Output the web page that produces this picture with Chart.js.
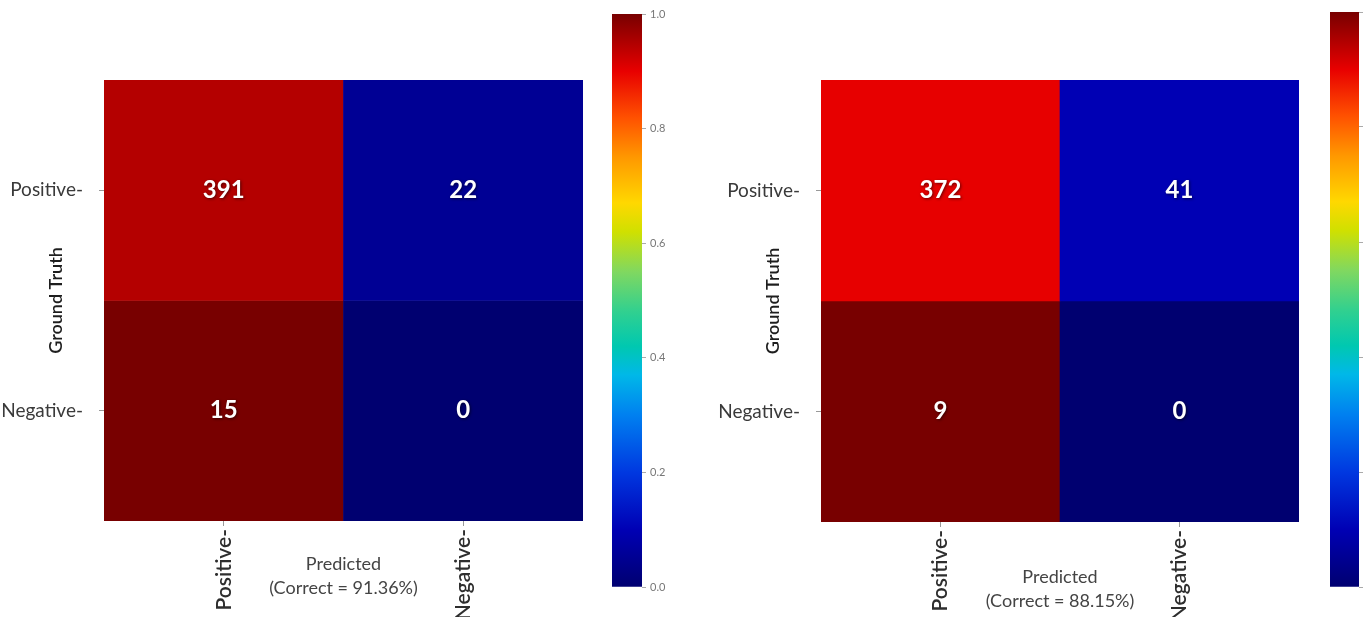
<!DOCTYPE html>
<html>
<head>
<meta charset="utf-8">
<script src="https://cdn.jsdelivr.net/npm/chart.js@4/dist/chart.umd.min.js"></script>
<style>
  html, body { margin: 0; padding: 0; background: #ffffff; }
  body { width: 1370px; height: 617px; position: relative; overflow: hidden; }
  canvas { position: absolute; }
</style>
</head>
<body>
<canvas id="matrixLeft"></canvas>
<canvas id="barLeft"></canvas>
<canvas id="matrixRight"></canvas>
<canvas id="barRight"></canvas>
<script>
// Axis categories
const predictedLabels = ['Positive-', 'Negative-'];
const truthLabels = ['Positive-', 'Negative-'];

// Confusion-matrix counts, one array per ground-truth row
const leftPositiveRow = [391, 22];
const leftNegativeRow = [15, 0];
const rightPositiveRow = [372, 41];
const rightNegativeRow = [9, 0];

// Colour bar ticks
const colorbarTicks = [0, 0.2, 0.4, 0.6, 0.8, 1.0];

// Jet-style colour map stops
const jetStops = [
  [0.00, '#000070'], [0.10, '#0000b4'], [0.20, '#0038e0'], [0.30, '#0080f0'],
  [0.37, '#00b8e8'], [0.42, '#00c8b0'], [0.48, '#30d090'], [0.55, '#80d860'],
  [0.62, '#d0e000'], [0.67, '#ffd800'], [0.75, '#ff9800'], [0.82, '#ff5000'],
  [0.90, '#e80000'], [0.95, '#b00000'], [1.00, '#780000']
];

const FONT = 'Lato, "Open Sans", "DejaVu Sans", sans-serif';

function hexToRgb(h) {
  return [parseInt(h.slice(1, 3), 16), parseInt(h.slice(3, 5), 16), parseInt(h.slice(5, 7), 16)];
}
function jet(v) {
  v = Math.max(0, Math.min(1, v));
  for (let i = 1; i < jetStops.length; i++) {
    const [p1, c1] = jetStops[i];
    const [p0, c0] = jetStops[i - 1];
    if (v <= p1) {
      const t = (v - p0) / (p1 - p0);
      const a = hexToRgb(c0), b = hexToRgb(c1);
      const c = a.map((x, k) => Math.round(x + (b[k] - x) * t));
      return `rgb(${c[0]},${c[1]},${c[2]})`;
    }
  }
  return jetStops[jetStops.length - 1][1];
}

function place(canvas, box) {
  canvas.width = box.width;
  canvas.height = box.height;
  canvas.style.left = box.left + 'px';
  canvas.style.top = box.top + 'px';
  canvas.style.width = box.width + 'px';
  canvas.style.height = box.height + 'px';
}

function matrixChart(id, box, area, posRow, negRow, titleOffset) {
  const canvas = document.getElementById(id);
  place(canvas, box);
  const total = posRow.concat(negRow).reduce((s, v) => s + v, 0);
  const correct = ((posRow[0] + negRow[1]) / total * 100).toFixed(2);
  const posSum = posRow.reduce((s, v) => s + v, 0);
  const negSum = negRow.reduce((s, v) => s + v, 0);

  const cellText = {
    id: 'cellText',
    afterDatasetsDraw(chart) {
      const ctx = chart.ctx;
      const ca = chart.chartArea;
      ctx.save();
      chart.data.datasets.forEach((ds, di) => {
        chart.getDatasetMeta(di).data.forEach((el, i) => {
          const cy = (el.y + el.base) / 2;
          ctx.font = `bold 24px ${FONT}`;
          ctx.textAlign = 'center';
          ctx.textBaseline = 'middle';
          ctx.shadowColor = 'rgba(0,0,0,0.55)';
          ctx.shadowBlur = 3;
          ctx.shadowOffsetX = 1;
          ctx.shadowOffsetY = 1;
          ctx.fillStyle = '#ffffff';
          ctx.fillText(String(ds.counts[i]), el.x, cy);
        });
      });
      ctx.restore();

      // Axis titles
      ctx.save();
      ctx.font = `18px ${FONT}`;
      ctx.textAlign = 'center';
      ctx.textBaseline = 'middle';
      const cx = (ca.left + ca.right) / 2;
      ctx.fillStyle = '#444';
      ctx.fillText('Predicted', cx, ca.bottom + titleOffset);
      ctx.fillText(`(Correct = ${correct}%)`, cx, ca.bottom + titleOffset + 24);
      ctx.translate(ca.left - 48, (ca.top + ca.bottom) / 2);
      ctx.rotate(-Math.PI / 2);
      ctx.fillStyle = '#1e1e1e';
      ctx.font = `600 18px ${FONT}`;
      ctx.fillText('Ground Truth', 0, 0);
      ctx.restore();
    }
  };

  return new Chart(canvas, {
    type: 'bar',
    data: {
      labels: predictedLabels,
      datasets: [
        {
          data: posRow.map(() => [1, 2]),
          counts: posRow,
          backgroundColor: posRow.map(v => jet(v / posSum)),
          grouped: false,
          categoryPercentage: 1,
          barPercentage: 1,
          borderWidth: 0
        },
        {
          data: negRow.map(() => [0, 1]),
          counts: negRow,
          backgroundColor: negRow.map(v => jet(negSum ? v / negSum : 0)),
          grouped: false,
          categoryPercentage: 1,
          barPercentage: 1,
          borderWidth: 0
        }
      ]
    },
    options: {
      responsive: false,
      animation: false,
      devicePixelRatio: 1,
      layout: { padding: { top: area.t - box.top, right: box.left + box.width - area.r, left: 0, bottom: 0 } },
      plugins: { legend: { display: false }, tooltip: { enabled: false } },
      scales: {
        x: {
          type: 'category',
          afterFit(s) { s.height = box.top + box.height - area.b; },
          grid: { offset: false, drawOnChartArea: false, drawTicks: true, tickLength: 5, color: '#999' },
          border: { display: false },
          ticks: {
            autoSkip: false, maxRotation: 90, minRotation: 90, padding: 3,
            color: '#2e2e2e', font: { family: FONT, size: 21, weight: '600' }
          }
        },
        y: {
          type: 'linear', min: 0, max: 2,
          afterFit(s) { s.width = area.l - box.left; },
          afterBuildTicks(s) { s.ticks = [{ value: 1.5 }, { value: 0.5 }]; },
          grid: { drawOnChartArea: false, drawTicks: true, tickLength: 5, color: '#999' },
          border: { display: false },
          ticks: {
            padding: 16, color: '#3a3a3a', font: { family: FONT, size: 19 },
            callback: v => (v > 1 ? truthLabels[0] : truthLabels[1])
          }
        }
      }
    },
    plugins: [cellText]
  });
}

function colorbarChart(id, box, area, showLabels) {
  const canvas = document.getElementById(id);
  place(canvas, box);
  return new Chart(canvas, {
    type: 'bar',
    data: {
      labels: [''],
      datasets: [{
        data: [[colorbarTicks[0], colorbarTicks[colorbarTicks.length - 1]]],
        categoryPercentage: 1,
        barPercentage: 1,
        borderWidth: 0,
        backgroundColor(c) {
          const a = c.chart.chartArea;
          if (!a) return '#000070';
          const g = c.chart.ctx.createLinearGradient(0, a.bottom, 0, a.top);
          jetStops.forEach(([p, col]) => g.addColorStop(p, col));
          return g;
        }
      }]
    },
    options: {
      responsive: false,
      animation: false,
      devicePixelRatio: 1,
      layout: { padding: { top: area.t - box.top, left: area.l - box.left, bottom: box.top + box.height - area.b, right: 0 } },
      plugins: { legend: { display: false }, tooltip: { enabled: false } },
      scales: {
        x: { display: false },
        y: {
          type: 'linear', position: 'right', min: 0, max: 1,
          afterFit(s) { s.width = box.left + box.width - area.r; },
          afterBuildTicks(s) { s.ticks = colorbarTicks.map(v => ({ value: v })); },
          grid: { drawOnChartArea: false, drawTicks: true, tickLength: 4, color: '#aaa' },
          border: { display: false },
          ticks: {
            padding: 4,
            color: showLabels ? '#777' : 'rgba(0,0,0,0)',
            font: { family: FONT, size: 11 },
            callback: v => v.toFixed(1)
          }
        }
      }
    }
  });
}

matrixChart('matrixLeft',
  { left: 0, top: 0, width: 600, height: 617 },
  { l: 104, t: 80, r: 583, b: 521 },
  leftPositiveRow, leftNegativeRow, 43);
colorbarChart('barLeft',
  { left: 600, top: 0, width: 70, height: 617 },
  { l: 612, t: 14, r: 642, b: 587 }, true);

matrixChart('matrixRight',
  { left: 690, top: 0, width: 630, height: 617 },
  { l: 821, t: 80, r: 1299, b: 522 },
  rightPositiveRow, rightNegativeRow, 55);
colorbarChart('barRight',
  { left: 1320, top: 0, width: 50, height: 617 },
  { l: 1330, t: 12, r: 1359, b: 587 }, false);
</script>
</body>
</html>
